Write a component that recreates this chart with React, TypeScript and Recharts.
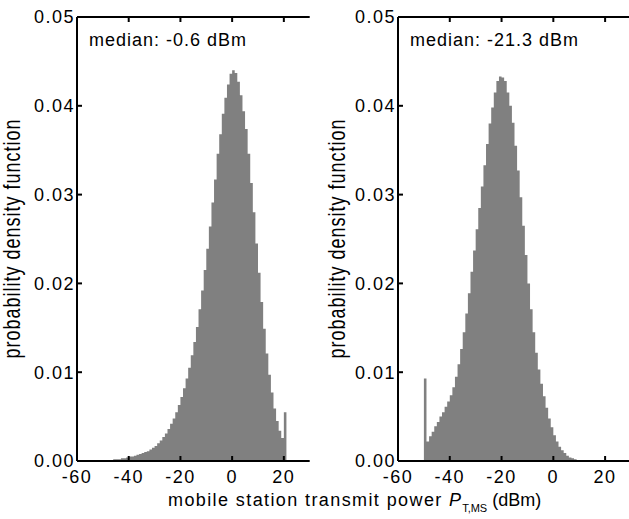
import React from 'react';
import { AreaChart, Area, XAxis, YAxis, Label } from 'recharts';

// x-axis (transmit power, dBm) ticks and y-axis (pdf) ticks
const X_TICKS = [-60, -40, -20, 0, 20];
const Y_TICKS = [0, 0.01, 0.02, 0.03, 0.04, 0.05];

// 1 dB histogram bins; first bin lower edge (dBm)
const LEFT_FIRST_BIN = -50;
const LEFT_PDF = [
  0.0001, 0.0001, 0.0001, 0.0001, 0.0002, 0.0002, 0.0002, 0.0003, 0.0003, 0.0004,
  0.0005, 0.0005, 0.0006, 0.0007, 0.0008, 0.0009, 0.001, 0.0011, 0.0013, 0.0015,
  0.0017, 0.002, 0.0023, 0.0027, 0.0031, 0.0036, 0.0042, 0.0048, 0.0055, 0.0063,
  0.0072, 0.0082, 0.0093, 0.0105, 0.0119, 0.0134, 0.0151, 0.0171, 0.0192, 0.0215,
  0.0239, 0.0264, 0.0291, 0.0317, 0.0346, 0.0368, 0.0391, 0.0409, 0.0424, 0.0436,
  0.044, 0.0437, 0.0427, 0.0412, 0.0394, 0.0374, 0.0346, 0.0313, 0.028, 0.0245,
  0.0212, 0.0179, 0.0149, 0.0121, 0.0097, 0.0077, 0.0059, 0.0045, 0.0034, 0.0026,
  0.0055,
];

const RIGHT_FIRST_BIN = -50;
const RIGHT_PDF = [
  0.0093, 0.0022, 0.0028, 0.0033, 0.0039, 0.0044, 0.005, 0.0055, 0.0061, 0.0067,
  0.0074, 0.0083, 0.0095, 0.0109, 0.0126, 0.0145, 0.0166, 0.0189, 0.0213, 0.0237,
  0.0261, 0.0285, 0.0309, 0.0333, 0.0357, 0.038, 0.0398, 0.0415, 0.0428, 0.0433,
  0.0432, 0.0428, 0.0415, 0.04, 0.0381, 0.0355, 0.0327, 0.0297, 0.0265, 0.0232,
  0.02, 0.0171, 0.0145, 0.0122, 0.0103, 0.0087, 0.0073, 0.006, 0.0048, 0.0038,
  0.0029, 0.0022, 0.0016, 0.0012, 0.0009, 0.0006, 0.0004, 0.0003, 0.0002, 0.0001,
];

const LEFT_MEDIAN = 'median: -0.6 dBm';
const RIGHT_MEDIAN = 'median: -21.3 dBm';
const Y_TITLE = 'probability density function';

const FONT = '"Liberation Sans", Arial, Helvetica, sans-serif';
const GRAY = '#808080';

// each bin as a step starting at its lower edge; the last bin is closed at its upper edge
const toSteps = (first: number, vals: number[]) => {
  const rows = vals.map((v, i) => ({ x: first + i, v }));
  rows.push({ x: first + vals.length, v: vals[vals.length - 1] });
  return rows;
};

type PanelProps = {
  data: { x: number; v: number }[];
  median: string;
  left: number;
  width: number;
  yAxisWidth: number;
  marginRight: number;
  medianX: number;
  titleX: number;
};

function Panel(p: PanelProps) {
  const stroke = { stroke: '#000', strokeWidth: 2 };
  const tickStyle = { fontSize: 18, fill: '#000', fontFamily: FONT, letterSpacing: 1.5 };
  const titleY = 238.5;
  return (
    <div style={{ position: 'absolute', left: p.left, top: 0 }}>
      <AreaChart
        width={p.width}
        height={519}
        data={p.data}
        margin={{ top: 16, right: p.marginRight, bottom: 28, left: 0 }}
      >
        <XAxis
          dataKey="x"
          type="number"
          domain={[-60, 30]}
          ticks={X_TICKS}
          interval={0}
          height={30}
          tickSize={-5}
          tickMargin={14.5}
          axisLine={stroke}
          tickLine={stroke}
          tick={tickStyle}
          allowDataOverflow
        />
        <XAxis
          xAxisId="top"
          dataKey="x"
          orientation="top"
          type="number"
          domain={[-60, 30]}
          ticks={X_TICKS}
          interval={0}
          height={1}
          tickSize={-5}
          axisLine={stroke}
          tickLine={stroke}
          tickFormatter={() => ''}
          allowDataOverflow
        />
        <YAxis
          yAxisId="left"
          type="number"
          domain={[0, 0.05]}
          ticks={Y_TICKS}
          interval={0}
          width={p.yAxisWidth}
          tickSize={-5}
          tickMargin={7}
          axisLine={stroke}
          tickLine={stroke}
          tick={tickStyle}
          tickFormatter={(v: number) => v.toFixed(2)}
          allowDataOverflow
        >
          <Label
            content={() => (
              <g>
                <text
                  x={0}
                  y={0}
                  transform={`translate(${p.titleX}, ${titleY}) scale(1.3, 1) rotate(-90)`}
                  textAnchor="middle"
                  fontSize={18}
                  fontFamily={FONT}
                  letterSpacing={1}
                  fill="#000"
                >
                  {Y_TITLE}
                </text>
                <text x={p.medianX} y={46} fontSize={18} fontFamily={FONT} letterSpacing={1} fill="#000">
                  {p.median}
                </text>
              </g>
            )}
          />
        </YAxis>
        <YAxis
          yAxisId="right"
          orientation="right"
          type="number"
          domain={[0, 0.05]}
          ticks={Y_TICKS}
          interval={0}
          width={0}
          tickSize={-5}
          axisLine={stroke}
          tickLine={stroke}
          tickFormatter={() => ''}
          allowDataOverflow
        />
        <Area
          dataKey="v"
          xAxisId={0}
          yAxisId="left"
          type="stepAfter"
          fill={GRAY}
          fillOpacity={1}
          stroke="none"
          dot={false}
          activeDot={false}
          isAnimationActive={false}
        />
      </AreaChart>
    </div>
  );
}

export default function App() {
  return (
    <div
      style={{
        position: 'absolute',
        left: 0,
        top: 0,
        width: 629,
        height: 519,
        overflow: 'hidden',
        background: '#fff',
        fontFamily: FONT,
      }}
    >
      <Panel
        data={toSteps(LEFT_FIRST_BIN, LEFT_PDF)}
        median={LEFT_MEDIAN}
        left={0}
        width={315}
        yAxisWidth={77}
        marginRight={5.3}
        medianX={89}
        titleX={20}
      />
      <Panel
        data={toSteps(RIGHT_FIRST_BIN, RIGHT_PDF)}
        median={RIGHT_MEDIAN}
        left={315}
        width={316}
        yAxisWidth={83}
        marginRight={0}
        medianX={95}
        titleX={30}
      />
      <svg
        width={629}
        height={519}
        style={{ position: 'absolute', left: 0, top: 0, pointerEvents: 'none' }}
      >
        <text x={168} y={506} fontSize={18} fontFamily={FONT} fill="#000">
          <tspan letterSpacing={1.4}>{'mobile station transmit power '}</tspan>
          <tspan fontStyle="italic" letterSpacing={1}>P</tspan>
          <tspan fontSize={11} dy={6}>T,MS</tspan>
          <tspan dy={-6}>{' (dBm)'}</tspan>
        </text>
      </svg>
    </div>
  );
}
